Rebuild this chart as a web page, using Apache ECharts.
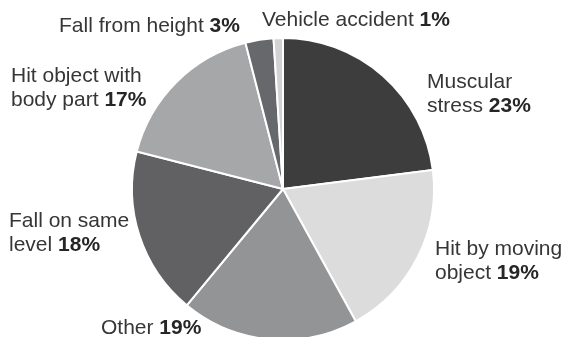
<!DOCTYPE html>
<html>
<head>
<meta charset="utf-8">
<script src="https://cdn.jsdelivr.net/npm/echarts@6/dist/echarts.min.js"></script>
<style>
  html, body { margin: 0; padding: 0; background: #ffffff; }
  #chart { width: 563px; height: 337px; }
</style>
</head>
<body>
<div id="chart"></div>
<script>
// Injury causes, clockwise from 12 o'clock
const categories = [
  'Muscular\nstress',
  'Hit by moving\nobject',
  'Other',
  'Fall on same\nlevel',
  'Hit object with\nbody part',
  'Fall from height',
  'Vehicle accident'
];
const shares = [23, 19, 19, 18, 17, 3, 1];
const sliceColors = ['#3d3d3e', '#dcdcdd', '#939496', '#616163', '#a6a7a9', '#67686b', '#d2d2d4'];

// Label anchor points (left edge, vertical middle of the text block)
const labelSpots = [
  [427, 94],
  [435, 261],
  [101, 328],
  [9, 233],
  [11, 88],
  [59, 26],
  [262, 20]
];

const chart = echarts.init(document.getElementById('chart'), null, { renderer: 'canvas' });

const data = categories.map((name, i) => ({
  name: name,
  value: shares[i],
  itemStyle: { color: sliceColors[i] }
}));

chart.setOption({
  animation: false,
  backgroundColor: '#ffffff',
  series: [{
    type: 'pie',
    center: [283, 189],
    radius: [0, 151],
    startAngle: 90,
    clockwise: true,
    avoidLabelOverlap: false,
    data: data,
    itemStyle: { borderColor: '#ffffff', borderWidth: 2 },
    labelLine: { show: false },
    label: {
      show: true,
      position: 'outside',
      formatter: function (p) {
        const lines = p.name.split('\n');
        const last = lines.pop();
        const head = lines.map(l => '{n|' + l + '}').join('\n');
        return (head ? head + '\n' : '') + '{n|' + last + ' }{b|' + p.value + '%}';
      },
      rich: {
        n: { fontFamily: 'Liberation Sans', fontSize: 21, color: '#363636', lineHeight: 24 },
        b: { fontFamily: 'Liberation Sans', fontSize: 21, fontWeight: 'bold', color: '#262626', lineHeight: 24 }
      }
    },
    labelLayout: function (params) {
      const spot = labelSpots[params.dataIndex];
      return { x: spot[0], y: spot[1], align: 'left', verticalAlign: 'middle', hideOverlap: false, moveOverlap: null };
    }
  }]
});
</script>
</body>
</html>
